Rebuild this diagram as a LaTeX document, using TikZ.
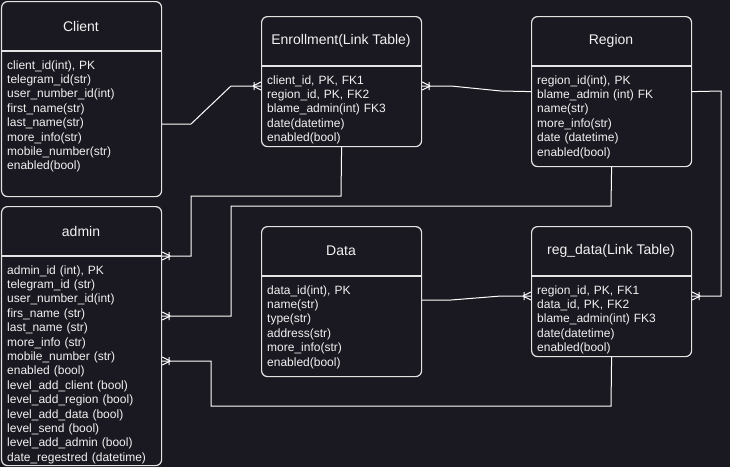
\documentclass[tikz,border=0pt]{standalone}
\usepackage{fontspec}
\setmainfont{Liberation Sans}
\usetikzlibrary{decorations.markings}
\definecolor{canvas}{HTML}{1A1820}
\definecolor{edge}{HTML}{E4E4E4}
\definecolor{ink}{HTML}{F2F2F2}
\tikzset{
  entity/.style = {draw=edge, line width=1.2pt, rounded corners=6pt,
    minimum width=160pt, inner sep=0pt, anchor=north west},
  divider/.style = {draw=edge, line width=1.2pt},
  enttitle/.style = {text=ink, font=\fontsize{14}{16}\selectfont, inner sep=0pt},
  entrows/.style = {text=ink, font=\fontsize{12}{14.4}\selectfont, align=left,
    text width=150pt, inner sep=0pt, anchor=base west},
  link/.style = {draw=white, line width=1pt},
  crowfoot/.style = {postaction={decorate, decoration={markings,
    mark=at position 1 with {\draw[link] (-8pt,0) -- (0,4pt) (-8pt,0) -- (0,-4pt)
      (-7pt,-4pt) -- (-7pt,4pt);}}}},
}

\begin{document}
\begin{tikzpicture}[x=1pt, y=-1pt]
  \fill[canvas] (0,0) rectangle (730,467);
  \useasboundingbox (0,0) rectangle (730,467);

  % Client
  \node[entity, minimum height=195pt] (client) at (1,1) {};
  \node[enttitle] (client-title) at (81,26) {Client};
  \draw[divider] (client.west |- 0,51) -- (client.east |- 0,51);
  \node[entrows] (client-rows) at (7,69) {client\_id(int), PK\\telegram\_id(str)\\user\_number\_id(int)\\first\_name(str)\\last\_name(str)\\more\_info(str)\\mobile\_number(str)\\enabled(bool)};

  % Enrollment
  \node[entity, minimum height=130pt] (enroll) at (261,16) {};
  \node[enttitle] (enroll-title) at (341,41) {Enrollment(Link Table)};
  \draw[divider] (enroll.west |- 0,66) -- (enroll.east |- 0,66);
  \node[entrows] (enroll-rows) at (267,84) {client\_id, PK, FK1\\region\_id, PK, FK2\\blame\_admin(int) FK3\\date(datetime)\\enabled(bool)};

  % Region
  \node[entity, minimum height=150pt] (region) at (531,16) {};
  \node[enttitle] (region-title) at (611,41) {Region};
  \draw[divider] (region.west |- 0,66) -- (region.east |- 0,66);
  \node[entrows] (region-rows) at (537,84) {region\_id(int), PK\\blame\_admin (int) FK\\name(str)\\more\_info(str)\\date (datetime)\\enabled(bool)};

  % admin
  \node[entity, minimum height=259pt] (admin) at (1,206) {};
  \node[enttitle] (admin-title) at (81,231) {admin};
  \draw[divider] (admin.west |- 0,256) -- (admin.east |- 0,256);
  \node[entrows] (admin-rows) at (7,274) {admin\_id (int), PK\\telegram\_id (str)\\user\_number\_id(int)\\firs\_name (str)\\last\_name (str)\\more\_info (str)\\mobile\_number (str)\\enabled (bool)\\level\_add\_client (bool)\\level\_add\_region (bool)\\level\_add\_data (bool)\\level\_send (bool)\\level\_add\_admin (bool)\\date\_regestred (datetime)};

  % Data
  \node[entity, minimum height=150pt] (data) at (261,226) {};
  \node[enttitle] (data-title) at (341,251) {Data};
  \draw[divider] (data.west |- 0,276) -- (data.east |- 0,276);
  \node[entrows] (data-rows) at (267,294) {data\_id(int), PK\\name(str)\\type(str)\\address(str)\\more\_info(str)\\enabled(bool)};

  % reg_data
  \node[entity, minimum height=130pt] (regdata) at (531,226) {};
  \node[enttitle] (regdata-title) at (611,251) {reg\_data(Link Table)};
  \draw[divider] (regdata.west |- 0,276) -- (regdata.east |- 0,276);
  \node[entrows] (regdata-rows) at (537,294) {region\_id, PK, FK1\\data\_id, PK, FK2\\blame\_admin(int) FK3\\date(datetime)\\enabled(bool)};

  % relations
  \draw[link, crowfoot] (client.east |- 0,124) -- (191,124) -- (231,86) -- (enroll.west |- 0,86);
  \draw[link, crowfoot] (region.west) -- (501,91) -- (451,86) -- (enroll.east |- 0,86);
  \draw[link, crowfoot] (enroll.south) -- (341,196) -- (191,196) -- (191,256) -- (admin.east |- 0,256);
  \draw[link, crowfoot] (region.south) -- (611,206) -- (231,206) -- (231,316) -- (admin.east |- 0,316);
  \draw[link, crowfoot] (regdata.south) -- (611,406) -- (211,406) -- (211,361) -- (admin.east |- 0,361);
  \draw[link, crowfoot] (data.east |- 0,300) -- (451,300) -- (501,296) -- (regdata.west |- 0,296);
  \draw[link, crowfoot] (region.east) -- (721,91) -- (721,296) -- (regdata.east |- 0,296);
\end{tikzpicture}
\end{document}
